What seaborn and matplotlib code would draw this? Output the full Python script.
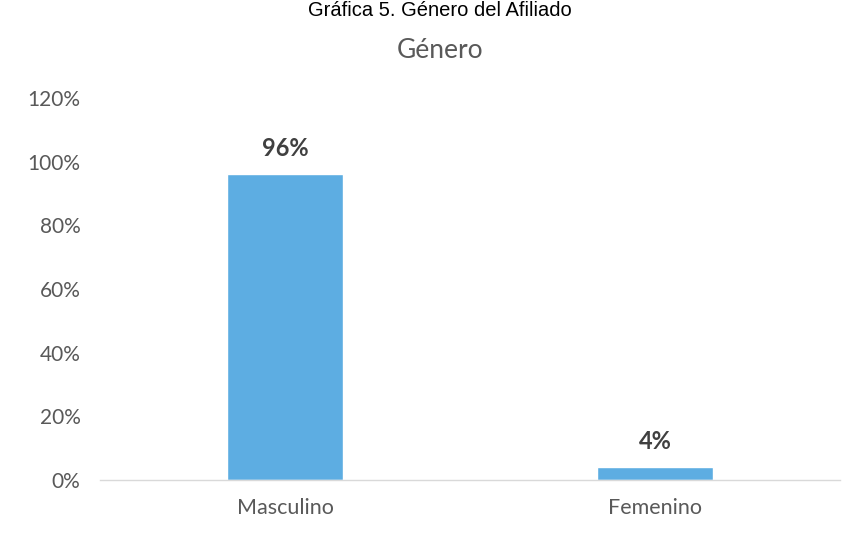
import matplotlib
matplotlib.use('Agg')
import matplotlib.pyplot as plt
import seaborn as sns
import pandas as pd

generos = ['Masculino', 'Femenino']
porcentajes = [0.96, 0.04]
etiquetas = ['96%', '4%']
y_ticks = [0, 0.2, 0.4, 0.6, 0.8, 1.0, 1.2]
y_tick_labels = ['0%', '20%', '40%', '60%', '80%', '100%', '120%']

df = pd.DataFrame({'genero': generos, 'porcentaje': porcentajes})

sns.set_style('white')
plt.rcParams['font.family'] = ['Lato', 'DejaVu Sans']

fig = plt.figure(figsize=(8.57, 5.37), dpi=100)
ax = fig.add_axes([0.1167, 0.106, 0.8633, 0.7115])

sns.barplot(data=df, x='genero', y='porcentaje', color='#5DADE2',
            saturation=1, width=0.315, ax=ax)

ax.set_xlim(-0.5, 1.5)
ax.set_ylim(0, 1.2)
ax.set_yticks(y_ticks)
ax.set_yticklabels(y_tick_labels)
ax.set_xlabel('')
ax.set_ylabel('')
ax.tick_params(axis='y', length=0, pad=14, labelsize=15, labelcolor='#595959')
ax.tick_params(axis='x', length=0, pad=13, labelsize=15.5, labelcolor='#595959')

for s in ['top', 'right', 'left']:
    ax.spines[s].set_visible(False)
ax.spines['bottom'].set_color('#D9D9D9')
ax.spines['bottom'].set_linewidth(1)

for i, (v, t) in enumerate(zip(porcentajes, etiquetas)):
    ax.annotate(t, (i, v), xytext=(0, 26), textcoords='offset pixels',
                ha='center', va='center', fontsize=17, fontweight='bold', color='#404040')

fig.text(440 / 857, 1 - 50 / 537, 'Género', ha='center', va='center',
         fontsize=19, color='#595959')
fig.text(440 / 857, 1 - 16 / 537, 'Gráfica 5. Género del Afiliado', ha='center',
         va='baseline', fontsize=14.5, color='black', family='Liberation Sans')

fig.savefig('out.png', dpi=100)
